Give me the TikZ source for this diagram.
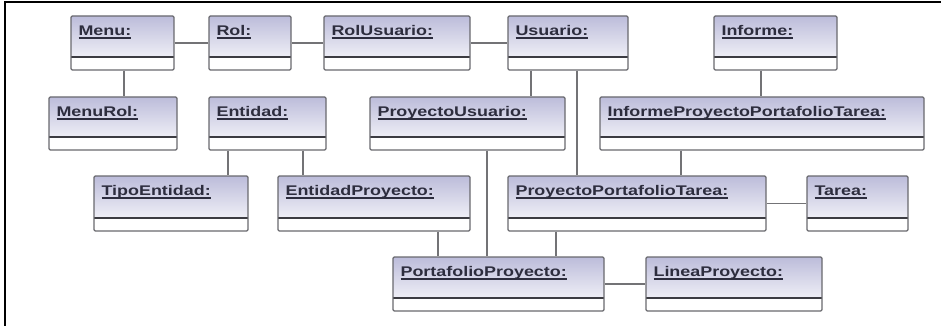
\documentclass[tikz,border=0pt]{standalone}
\usepackage{fontspec}
\usepackage{xcolor}
\usetikzlibrary{positioning}
\newfontfamily\umlfont[FakeStretch=1.28]{Liberation Sans}
\definecolor{headtop}{RGB}{188,188,218}
\definecolor{boxgray}{RGB}{105,105,110}
\definecolor{divgray}{RGB}{60,60,66}
\definecolor{linkgray}{RGB}{115,115,118}
\definecolor{namecol}{RGB}{45,45,62}
\newcommand\clsname[1]{\setbox0\hbox{#1}\rlap{\rule[-3.3pt]{\wd0}{1.5pt}}\box0}

\begin{document}
\begin{tikzpicture}[x=1pt, y=-1pt,
	umlclass/.style={draw=boxgray, line width=1.3pt, rounded corners=1.2pt,
		top color=headtop, bottom color=white, inner sep=0pt,
		path picture={
			\fill[white] (path picture bounding box.south west) rectangle ([yshift=13pt]path picture bounding box.south east);
			\draw[divgray, line width=1.5pt] ([yshift=13pt]path picture bounding box.south west) -- ([yshift=13pt]path picture bounding box.south east);
		}},
	classname/.style={anchor=base west, xshift=8pt, yshift=-20pt, inner sep=0pt,
		text=namecol, font=\umlfont\bfseries\fontsize{14}{16}\selectfont},
	link/.style={draw=linkgray, line width=1.2pt}]
	\useasboundingbox (0,0) rectangle (941,326);
	
	\draw [line width=2pt] (5,326) -- (5,2) -- (941,2);
	
	% first row
	\node[umlclass, minimum width=103, minimum height=54,
	label={[classname]north west:\clsname{Menu:}}] (menu) at (122.5,43) {};
	\node[umlclass, minimum width=82, minimum height=54,
	label={[classname]north west:\clsname{Rol:}}] (rol) at (250,43) {};
	\node[umlclass, minimum width=146, minimum height=54,
	label={[classname]north west:\clsname{RolUsuario:}}] (rolusuario) at (397,43) {};
	\node[umlclass, minimum width=120, minimum height=54,
	label={[classname]north west:\clsname{Usuario:}}] (usuario) at (568,43) {};
	\node[umlclass, minimum width=123, minimum height=54,
	label={[classname]north west:\clsname{Informe:}}] (informe) at (775.5,43) {};
	
	% second row
	\node[umlclass, minimum width=128, minimum height=53,
	label={[classname]north west:\clsname{MenuRol:}}] (menurol) at (113,123.5) {};
	\node[umlclass, minimum width=117, minimum height=53,
	label={[classname]north west:\clsname{Entidad:}}] (entidad) at (267.5,123.5) {};
	\node[umlclass, minimum width=195, minimum height=53,
	label={[classname]north west:\clsname{ProyectoUsuario:}}] (proyectousuario) at (467.5,123.5) {};
	\node[umlclass, minimum width=324, minimum height=53,
	label={[classname]north west:\clsname{InformeProyectoPortafolioTarea:}}] (informeppt) at (762,123.5) {};
	
	% third row
	\node[umlclass, minimum width=154, minimum height=55,
	label={[classname]north west:\clsname{TipoEntidad:}}] (tipoentidad) at (171,203.5) {};
	\node[umlclass, minimum width=192, minimum height=55,
	label={[classname]north west:\clsname{EntidadProyecto:}}] (entidadproyecto) at (374,203.5) {};
	\node[umlclass, minimum width=258, minimum height=55,
	label={[classname]north west:\clsname{ProyectoPortafolioTarea:}}] (ppt) at (637,203.5) {};
	\node[umlclass, minimum width=101, minimum height=55,
	label={[classname]north west:\clsname{Tarea:}}] (tarea) at (857.5,203.5) {};
	
	% fourth row
	\node[umlclass, minimum width=211, minimum height=54,
	label={[classname]north west:\clsname{PortafolioProyecto:}}] (portafolioproyecto) at (498.5,284) {};
	\node[umlclass, minimum width=176, minimum height=54,
	label={[classname]north west:\clsname{LineaProyecto:}}] (lineaproyecto) at (734,284) {};
	
	% associations
	\draw [link] (menu) -- (rol);
	\draw [link] (rol) -- (rolusuario);
	\draw [link] (rolusuario) -- (usuario);
	\draw [link] (ppt) -- (tarea);
	\draw [link] (portafolioproyecto) -- (lineaproyecto);
	
	\draw [link] (menu.south -| 124,0) -- (menurol.north -| 124,0);
	\draw [link] (usuario.south -| 531,0) -- (proyectousuario.north -| 531,0);
	\draw [link] (usuario.south -| 577,0) -- (ppt.north -| 577,0);
	\draw [link] (informe.south -| 761,0) -- (informeppt.north -| 761,0);
	\draw [link] (entidad.south -| 228,0) -- (tipoentidad.north -| 228,0);
	\draw [link] (entidad.south -| 303,0) -- (entidadproyecto.north -| 303,0);
	\draw [link] (proyectousuario.south -| 487,0) -- (portafolioproyecto.north -| 487,0);
	\draw [link] (informeppt.south -| 681,0) -- (ppt.north -| 681,0);
	\draw [link] (entidadproyecto.south -| 438,0) -- (portafolioproyecto.north -| 438,0);
	\draw [link] (ppt.south -| 556,0) -- (portafolioproyecto.north -| 556,0);
\end{tikzpicture}
\end{document}
